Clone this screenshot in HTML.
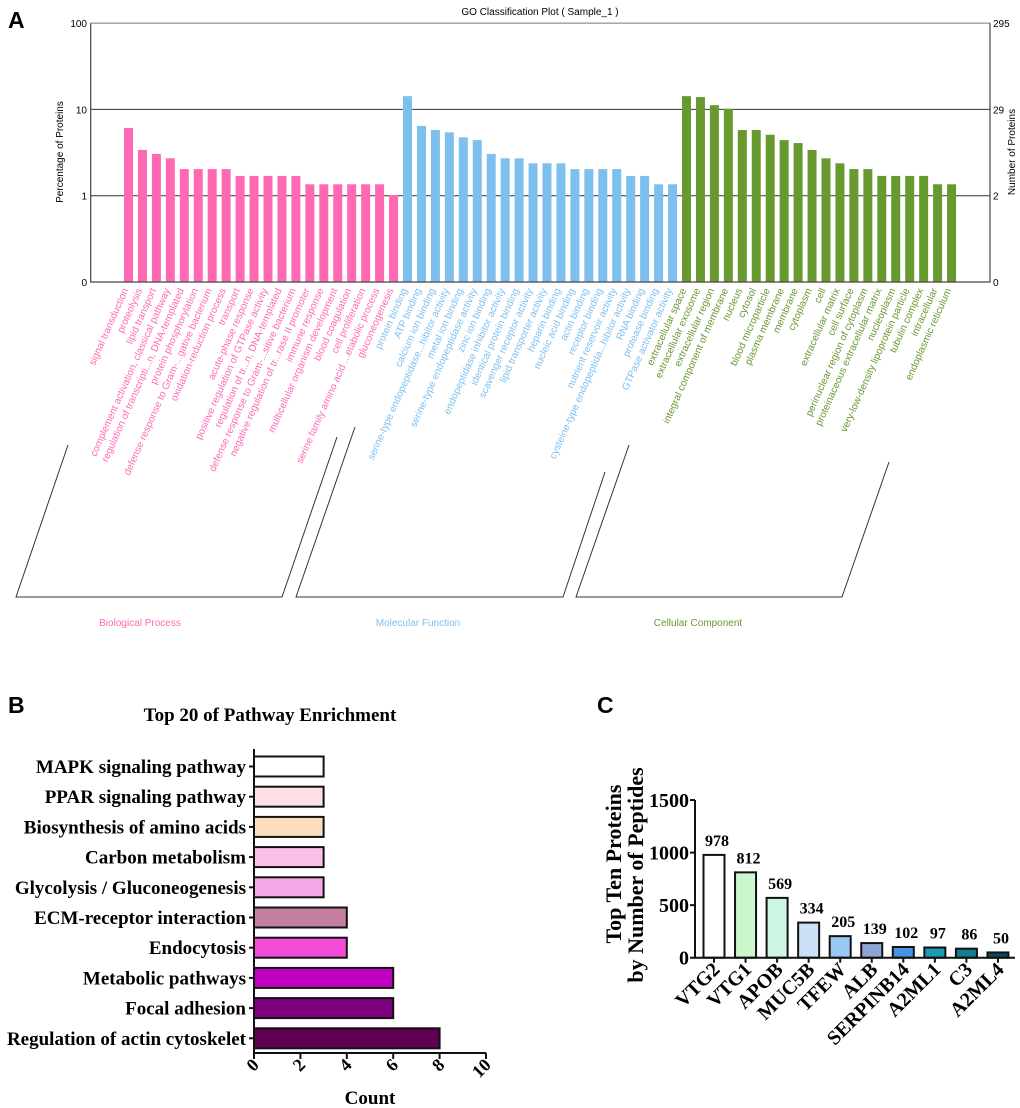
<!DOCTYPE html>
<html><head><meta charset="utf-8"><style>
html,body{margin:0;padding:0;background:#fff;}
svg{display:block;}
</style></head><body>
<svg id="fig" width="1020" height="1108" xmlns="http://www.w3.org/2000/svg">
<g font-family="Liberation Sans, Arial, sans-serif">
<text x="8" y="28" font-size="23" font-weight="bold">A</text>
<text x="540" y="15" font-size="10" text-anchor="middle">GO Classification Plot ( Sample_1 )</text>
<text x="8" y="713" font-size="23" font-weight="bold">B</text>
<text x="597" y="713" font-size="23" font-weight="bold">C</text>
</g>
<g id="ga"></g><g id="gb"></g><g id="gc"></g>
</svg>
<script>
// ---------- Panel A data ----------
const goTerms = ["signal transduction","proteolysis","lipid transport","complement activation, classical pathway","regulation of transcripti...n, DNA-templated","protein phosphorylation","defense response to Gram-...gative bacterium","oxidation-reduction process","transport","acute-phase response","positive regulation of GTPase activity","regulation of tr...n, DNA-templated","defense response to Gram-...sitive bacterium","negative regulation of tr...rase II promoter","immune response","multicellular organism development","blood coagulation","cell proliferation","serine family amino acid ...etabolic process","gluconeogenesis",
"protein binding","ATP binding","calcium ion binding","serine-type endopeptidase...hibitor activity","metal ion binding","serine-type endopeptidase activity","zinc ion binding","endopeptidase inhibitor activity","identical protein binding","scavenger receptor activity","lipid transporter activity","heparin binding","nucleic acid binding","actin binding","receptor binding","nutrient reservoir activity","cysteine-type endopeptida...hibitor activity","RNA binding","protease binding","GTPase activator activity",
"extracellular space","extracellular exosome","extracellular region","integral component of membrane","nucleus","cytosol","blood microparticle","plasma membrane","membrane","cytoplasm","cell","extracellular matrix","cell surface","perinuclear region of cytoplasm","proteinaceous extracellular matrix","nucleoplasm","very-low-density lipoprotein particle","tubulin complex","intracellular","endoplasmic reticulum"];
const goCounts = [18,10,9,8,6,6,6,6,5,5,5,5,5,4,4,4,4,4,4,3,
42,19,17,16,14,13,9,8,8,7,7,7,6,6,6,6,5,5,4,4,
42,41,33,30,17,17,15,13,12,10,8,7,6,6,5,5,5,5,4,4];
const goTotal = 295;
const goGroups = ["Biological Process","Molecular Function","Cellular Component"];
const goLeftTicks = ["0","1","10","100"];
const goRightTicks = ["0","2","29","295"];

// ---------- Panel B data ----------
const pathways = ["MAPK signaling pathway","PPAR signaling pathway","Biosynthesis of amino acids","Carbon metabolism","Glycolysis / Gluconeogenesis","ECM-receptor interaction","Endocytosis","Metabolic pathways","Focal adhesion","Regulation of actin cytoskelet"];
const pathCounts = [3,3,3,3,3,4,4,6,6,8];
const pathTicks = [0,2,4,6,8,10];

// ---------- Panel C data ----------
const proteins = ["VTG2","VTG1","APOB","MUC5B","TFEW","ALB","SERPINB14","A2ML1","C3","A2ML4"];
const peptides = [978,812,569,334,205,139,102,97,86,50];
const pepTicks = [0,500,1000,1500];

const NS = "http://www.w3.org/2000/svg";
function mk(parent, tag, attrs, text){
  const e = document.createElementNS(NS, tag);
  for (const k in attrs) e.setAttribute(k, attrs[k]);
  if (text !== undefined) e.textContent = text;
  parent.appendChild(e); return e;
}
const SANS = "Liberation Sans, Arial, sans-serif";
const SERIF = "Liberation Serif, Times New Roman, serif";

// ===== Panel A =====
(function(){
  const g = document.getElementById('ga');
  const X0 = 90.7, X1 = 990, Y0 = 282, dec = 86.3;
  const yPct = p => Y0 - (Math.log10(p) + 1) * dec;
  const xBar = i => 124 + i * 13.95;
  const colors = ["#ff69b4","#7dbfef","#67992f"];
  [1,10,100].forEach((v,k)=>{
    const l = mk(g,'line',{x1:X0,x2:X1,y1:yPct(v),y2:yPct(v),stroke:k==2?'#777':'#333','stroke-width':1});
    
    
  });
  goCounts.forEach((c,i)=>{
    const p = c / goTotal * 100;
    const r = mk(g,'rect',{x:xBar(i),y:yPct(p),width:9,height:Y0-yPct(p),fill:colors[Math.floor(i/20)]});
    
    
    const cx = xBar(i)+4.5;
    const t = mk(g,'text',{x:0,y:0,transform:`translate(${cx},${290}) rotate(-66)`,'text-anchor':'end','font-size':10,'font-family':SANS,fill:colors[Math.floor(i/20)]}, goTerms[i]);
    
    
  });
  const ax = mk(g,'path',{d:`M${X0} ${yPct(100)} V${Y0} H${X1} V${yPct(100)}`,fill:'none',stroke:'#444','stroke-width':1.2});
  
  
  [0.1,1,10,100].forEach((v,k)=>{
    const y = yPct(v);
    const t1 = mk(g,'text',{x:87,y:y+4,'text-anchor':'end','font-size':10,'font-family':SANS}, goLeftTicks[k]);
    
    
    const t2 = mk(g,'text',{x:993,y:y+4,'font-size':10,'font-family':SANS}, goRightTicks[k]);
    
    
  });
  const yl = mk(g,'text',{transform:'translate(63,152) rotate(-90)','text-anchor':'middle','font-size':10,'font-family':SANS},'Percentage of Proteins');
  
  
  const yr = mk(g,'text',{transform:'translate(1015,152) rotate(-90)','text-anchor':'middle','font-size':10,'font-family':SANS},'Number of Proteins');
  
  
  const br = [[68,445,16,282,337,437],[355,427,296,563,605,472],[629,445,576,842,889,462]];
  const cxs = [140,418,698];
  br.forEach((b,k)=>{
    const p = mk(g,'path',{d:`M${b[0]} ${b[1]} L${b[2]} 597 H${b[3]} L${b[4]} ${b[5]}`,fill:'none',stroke:'#333','stroke-width':1});
    
    
    const t = mk(g,'text',{x:cxs[k],y:626,'text-anchor':'middle','font-size':10,'font-family':SANS,fill:colors[k]},goGroups[k]);
    
    
  });
})();

// ===== Panel B =====
(function(){
  const g = document.getElementById('gb');
  const X0 = 254, sx = 23.2, yTop = 766.5, pitch = 30.2, Yax = 1053;
  const xv = v => X0 + v*sx;
  const cols = ["#ffffff","#fde0e6","#fcdcbc","#fcc0e6","#f5a8e6","#c47ea0","#f54cd8","#c000c0","#7e007e","#600050"];
  const tt = mk(g,'text',{x:270,y:721,'text-anchor':'middle','font-size':19,'font-weight':'bold','font-family':SERIF},'Top 20 of Pathway Enrichment');
  
  
  pathways.forEach((n,i)=>{
    const cy = yTop + i*pitch;
    const r = mk(g,'rect',{x:X0,y:cy-10,width:xv(pathCounts[i])-X0,height:20,fill:cols[i],stroke:'#111','stroke-width':2});
    
    
    mk(g,'line',{x1:X0-5,x2:X0,y1:cy,y2:cy,stroke:'#111','stroke-width':2});
    const t = mk(g,'text',{x:246,y:cy+6.5,'text-anchor':'end','font-size':19,'font-weight':'bold','font-family':SERIF},n);
    
    
  });
  const ax = mk(g,'path',{d:`M${X0} 749 V${Yax} H${xv(10)}`,fill:'none',stroke:'#111','stroke-width':2});
  
  
  pathTicks.forEach(v=>{
    mk(g,'line',{x1:xv(v),x2:xv(v),y1:Yax,y2:Yax+6,stroke:'#111','stroke-width':2});
    const t = mk(g,'text',{transform:`translate(${xv(v)+6},${Yax+13}) rotate(-45)`,'text-anchor':'end','font-size':18,'font-weight':'bold','font-family':SERIF},String(v));
    
    
  });
  const xt = mk(g,'text',{x:370,y:1104,'text-anchor':'middle','font-size':19,'font-weight':'bold','font-family':SERIF},'Count');
  
  
})();

// ===== Panel C =====
(function(){
  const g = document.getElementById('gc');
  const X0 = 695, Y0 = 957.7, sy = 0.1051, x0 = 714, pitch = 31.55;
  const yv = v => Y0 - v*sy;
  const cols = ["#ffffff","#ccf7cc","#ccf5e4","#cce0f7","#99c8f5","#8fa6d2","#4a92e8","#199cb4","#128090","#0d4a5e"];
  proteins.forEach((n,i)=>{
    const cx = x0 + i*pitch;
    const r = mk(g,'rect',{x:cx-10.5,y:yv(peptides[i]),width:21,height:Y0-yv(peptides[i]),fill:cols[i],stroke:'#111','stroke-width':2});
    
    
    const v = mk(g,'text',{x:cx+3,y:yv(peptides[i])-9,'text-anchor':'middle','font-size':16,'font-weight':'bold','font-family':SERIF},String(peptides[i]));
    
    
    mk(g,'line',{x1:cx,x2:cx,y1:Y0,y2:Y0+5,stroke:'#111','stroke-width':2});
    const t = mk(g,'text',{transform:`translate(${cx+7},${Y0+13}) rotate(-45)`,'text-anchor':'end','font-size':20,'font-weight':'bold','font-family':SERIF},n);
    
    
  });
  const ax = mk(g,'path',{d:`M${X0} ${yv(1500)} V${Y0} H1015`,fill:'none',stroke:'#111','stroke-width':2});
  
  
  pepTicks.forEach(v=>{
    mk(g,'line',{x1:X0-5,x2:X0,y1:yv(v),y2:yv(v),stroke:'#111','stroke-width':2});
    const t = mk(g,'text',{x:689,y:yv(v)+7,'text-anchor':'end','font-size':20,'font-weight':'bold','font-family':SERIF},String(v));
    
    
  });
  const t1 = mk(g,'text',{transform:'translate(621,864) rotate(-90)','text-anchor':'middle','font-size':22,'font-weight':'bold','font-family':SERIF},'Top Ten Proteins');
  
  
  const t2 = mk(g,'text',{transform:'translate(643,875) rotate(-90)','text-anchor':'middle','font-size':22,'font-weight':'bold','font-family':SERIF},'by Number of Peptides');
  
  
})();
</script>
</body></html>
